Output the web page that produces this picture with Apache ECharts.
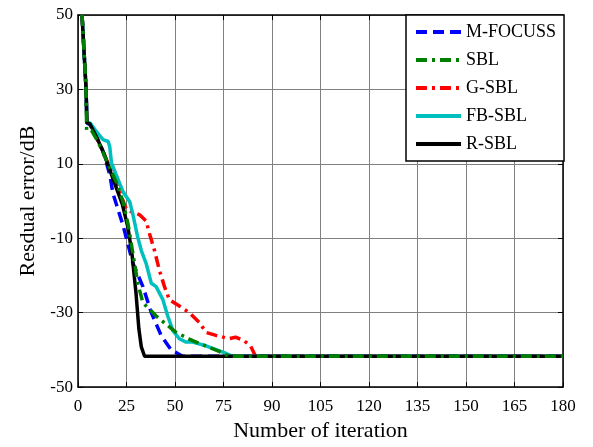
<!DOCTYPE html>
<html>
<head>
<meta charset="utf-8">
<script src="https://cdn.jsdelivr.net/npm/echarts@6/dist/echarts.min.js"></script>
<style>html,body{margin:0;padding:0;background:#fff}#c{width:593px;height:447px}</style>
</head>
<body>
<div id="c"></div>
<script>
// x values in axis units (axis drawn 0..180, 11 equally spaced ticks)
const xTickLabels = ["0","25","50","75","90","105","120","135","150","165","180"];
const yTicks = [-50,-30,-10,10,30,50];

const mfocussX = [1.5, 3, 3.3, 4.5, 7, 9.5, 11.8, 13, 16.7, 20.4, 24.1, 27.2, 30.9, 34.6, 38.8, 180];
const mfocussY = [50, 30, 21, 20.5, 17, 13, 7, 2, -6.5, -16.8, -23, -30, -36.2, -40, -41.7, -41.7];

const sblX = [1.5, 3, 3.2, 5, 7, 9.3, 12, 14.3, 16.7, 18.6, 20.4, 22.2, 24.1, 26.6, 29, 32.7, 36.4, 41.3, 47.5, 52.4, 56.1, 180];
const sblY = [50, 30, 19, 19, 16.5, 13, 8.5, 5, -0.2, -6.3, -14.2, -22.1, -27.4, -29.1, -30.9, -33.1, -35.3, -37.1, -39, -40.4, -41.7, -41.7];

const gsblX = [1.5, 3, 3.3, 4.5, 7, 9.5, 11.8, 15, 18, 22.9, 25.3, 26.6, 28.4, 30.2, 32.1, 33.9, 37.6, 41.3, 45, 47.5, 51.2, 56.1, 58.5, 61.6, 64.1, 65.9, 180];
const gsblY = [50, 30, 21, 20.5, 17, 13, 9, 3.5, -2.4, -3.7, -5.4, -8.9, -13.3, -18.6, -23, -26.5, -28.2, -30, -32.6, -35.3, -36.1, -37, -36.6, -37.5, -39, -41.7, -41.7];

const fbsblX = [1.5, 3, 3.3, 4.5, 7, 9.3, 11.2, 11.8, 12.4, 14.3, 16.7, 19.2, 20.4, 22.2, 23.5, 25.3, 27.2, 29, 31.5, 33.3, 35.2, 37.6, 40.1, 42.5, 47.5, 51.2, 54.8, 57.3, 180];
const fbsblY = [50, 30, 21, 21, 18.5, 16.5, 16, 14.5, 10.3, 6.8, 2.5, -0.2, -3.7, -9.8, -13.3, -16.8, -22.1, -23, -26.5, -30.9, -34.8, -37, -37.9, -37.9, -38.9, -39.9, -40.9, -41.7, -41.7];

const rsblX = [1.5, 3, 3.3, 4.4, 7, 9.5, 12, 14.5, 16.5, 18.5, 20, 21.5, 22.6, 23.5, 24.7, 180];
const rsblY = [50, 30, 21, 20.8, 17, 13, 8, 3, -1, -7, -14, -24.5, -34.4, -39.2, -41.7, -41.7];

const pts = (xs, ys) => xs.map((x, i) => [x, ys[i]]);

const chart = echarts.init(document.getElementById('c'), null, {renderer: 'canvas'});
const font = 'Liberation Serif';
const axisBase = {
  type: 'value',
  axisLine: {show: true, onZero: false, lineStyle: {color: '#000', width: 1.5}},
  axisTick: {show: true, inside: true, length: 5, lineStyle: {color: '#000', width: 1}},
  splitLine: {show: false},
  axisLabel: {show: false}
};
chart.setOption({
  backgroundColor: '#fff',
  animation: false,
  grid: {left: 78, right: 30, top: 15, bottom: 52, containLabel: false},
  xAxis: [
    Object.assign({}, axisBase, {
      min: 0, max: 180, interval: 18, position: 'bottom',
      splitLine: {show: true, lineStyle: {color: '#808080', width: 1}},
      axisLabel: {show: true, color: '#000', fontFamily: font, fontSize: 17, margin: 11,
        formatter: (v, i) => xTickLabels[Math.round(v / 18)]},
      name: 'Number of iteration', nameLocation: 'middle', nameGap: 30,
      nameTextStyle: {color: '#000', fontFamily: font, fontSize: 22}
    }),
    Object.assign({}, axisBase, {min: 0, max: 180, interval: 18, position: 'top'})
  ],
  yAxis: [
    Object.assign({}, axisBase, {
      min: -50, max: 50, interval: 20, position: 'left',
      splitLine: {show: true, lineStyle: {color: '#808080', width: 1}},
      axisLabel: {show: true, color: '#000', fontFamily: font, fontSize: 17, margin: 5,
        formatter: v => String(v)},
      name: 'Resdual error/dB', nameLocation: 'middle', nameGap: 39,
      nameTextStyle: {color: '#000', fontFamily: font, fontSize: 22}
    }),
    Object.assign({}, axisBase, {min: -50, max: 50, interval: 20, position: 'right'})
  ],
  legend: {
    left: 406, top: 15, orient: 'vertical',
    data: ['M-FOCUSS', 'SBL', 'G-SBL', 'FB-SBL', 'R-SBL'],
    itemWidth: 45, itemHeight: 14, itemGap: 10,
    padding: [8, 8, 8, 8],
    itemStyle: {opacity: 0},
    lineStyle: {width: 4},
    backgroundColor: '#fff', borderColor: '#000', borderWidth: 1.5, borderRadius: 0,
    textStyle: {color: '#000', fontFamily: font, fontSize: 18}
  },
  series: [
    {name: 'M-FOCUSS', type: 'line', data: pts(mfocussX, mfocussY), showSymbol: false, symbol: 'none',
     lineStyle: {color: '#0000ff', width: 3.5, type: [11, 6]}, itemStyle: {color: '#0000ff'}},
    {name: 'G-SBL', type: 'line', data: pts(gsblX, gsblY), showSymbol: false, symbol: 'none',
     lineStyle: {color: '#ff0000', width: 3.5, type: [11, 5, 3, 5]}, itemStyle: {color: '#ff0000'}},
    {name: 'FB-SBL', type: 'line', data: pts(fbsblX, fbsblY), showSymbol: false, symbol: 'none',
     lineStyle: {color: '#00bfbf', width: 3.5, type: 'solid'}, itemStyle: {color: '#00bfbf'}},
    {name: 'R-SBL', type: 'line', data: pts(rsblX, rsblY), showSymbol: false, symbol: 'none',
     lineStyle: {color: '#000000', width: 3.5, type: 'solid'}, itemStyle: {color: '#000000'}},
    {name: 'SBL', type: 'line', data: pts(sblX, sblY), showSymbol: false, symbol: 'none',
     lineStyle: {color: '#008000', width: 3.5, type: [11, 5, 3, 5]}, itemStyle: {color: '#008000'}}
  ]
});
</script>
</body>
</html>
